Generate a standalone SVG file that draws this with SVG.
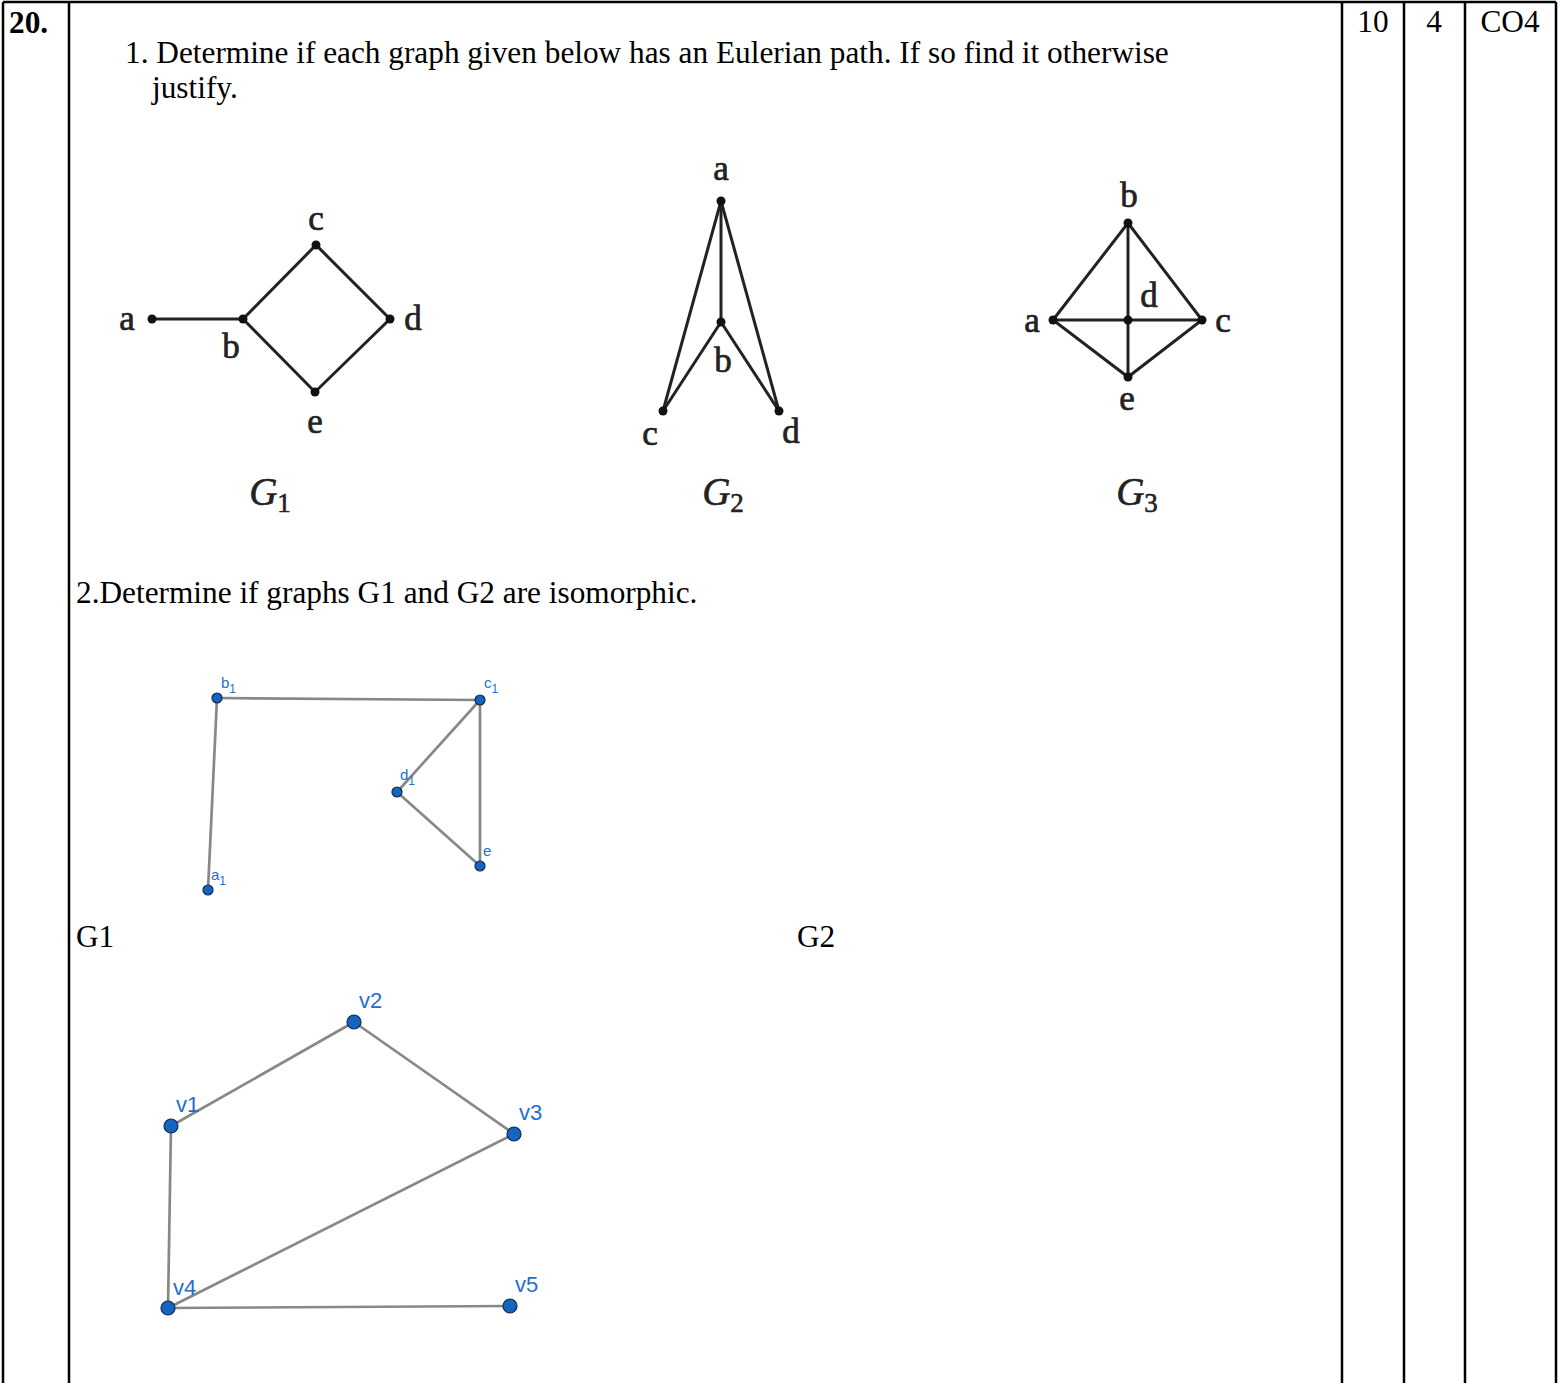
<svg xmlns="http://www.w3.org/2000/svg" width="1558" height="1383" viewBox="0 0 1558 1383">
<style>
.t{font-family:"Liberation Serif",serif;font-size:31.3px;fill:#000}
.lb{font-family:"Liberation Serif",serif;font-size:35px;fill:#222;text-anchor:middle;stroke:#222;stroke-width:0.7}
.gl{font-family:"Liberation Serif",serif;font-size:39px;font-style:italic;fill:#222;text-anchor:middle;stroke:#222;stroke-width:0.6}
.sub{font-size:27px;font-style:normal}
.e{stroke:#222;stroke-width:3;fill:none}
.n{fill:#111}
.ge{stroke:#888;stroke-width:2.7;fill:none}
.gn{fill:#1565c0;stroke:#0d2a50;stroke-width:1.2}
.gt{font-family:"Liberation Sans",sans-serif;fill:#1e6fd0}
.grid{stroke:#000;stroke-width:2.5;fill:none}
</style>
<rect width="1558" height="1383" fill="#fff"/>
<g id="table" class="grid">
<line x1="3" y1="2" x2="1556" y2="2"/>
<line x1="3" y1="2" x2="3" y2="1383"/>
<line x1="69" y1="2" x2="69" y2="1383"/>
<line x1="1342" y1="2" x2="1342" y2="1383"/>
<line x1="1404" y1="2" x2="1404" y2="1383"/>
<line x1="1465" y1="2" x2="1465" y2="1383"/>
<line x1="1556" y1="2" x2="1556" y2="1383"/>
</g>
<g id="texts">
<text class="t" x="9" y="33" font-weight="bold">20.</text>
<text class="t" x="125" y="63">1. Determine if each graph given below has an Eulerian path. If so find it otherwise</text>
<text class="t" x="152" y="98">justify.</text>
<text class="t" x="1373" y="32" text-anchor="middle">10</text>
<text class="t" x="1434" y="32" text-anchor="middle">4</text>
<text class="t" x="1510" y="32" text-anchor="middle">CO4</text>
<text class="t" x="76" y="603">2.Determine if graphs G1 and G2 are isomorphic.</text>
<text class="t" x="76" y="947">G1</text>
<text class="t" x="797" y="947">G2</text>
</g>
<g id="graphG1">
<g class="e">
<line x1="152" y1="319" x2="243" y2="319"/>
<polygon points="243,319 316,245 390,319 315,392"/>
</g>
<circle class="n" cx="152" cy="319" r="4.5"/><circle class="n" cx="243" cy="319" r="4.5"/><circle class="n" cx="316" cy="245" r="4.5"/><circle class="n" cx="390" cy="319" r="4.5"/><circle class="n" cx="315" cy="392" r="4.5"/>
<text class="lb" x="127" y="330">a</text><text class="lb" x="231" y="358">b</text><text class="lb" x="316" y="230">c</text><text class="lb" x="413" y="330">d</text><text class="lb" x="315" y="433">e</text>
<text class="gl" x="270" y="505">G<tspan class="sub" dy="7">1</tspan></text>
</g>
<g id="graphG2">
<g class="e">
<line x1="721" y1="201" x2="721" y2="322"/><line x1="721" y1="201" x2="663" y2="411"/><line x1="721" y1="201" x2="779" y2="411"/>
<line x1="721" y1="322" x2="663" y2="411"/><line x1="721" y1="322" x2="779" y2="411"/>
</g>
<circle class="n" cx="721" cy="201" r="4.5"/><circle class="n" cx="721" cy="322" r="4.5"/><circle class="n" cx="663" cy="411" r="4.5"/><circle class="n" cx="779" cy="411" r="4.5"/>
<text class="lb" x="721" y="180">a</text><text class="lb" x="723" y="372">b</text><text class="lb" x="650" y="445">c</text><text class="lb" x="791" y="443">d</text>
<text class="gl" x="723" y="505">G<tspan class="sub" dy="7">2</tspan></text>
</g>
<g id="graphG3">
<g class="e">
<polygon points="1053,320 1128,223 1202,320 1128,377"/>
<line x1="1053" y1="320" x2="1202" y2="320"/><line x1="1128" y1="223" x2="1128" y2="377"/>
</g>
<circle class="n" cx="1053" cy="320" r="4.5"/><circle class="n" cx="1128" cy="223" r="4.5"/><circle class="n" cx="1202" cy="320" r="4.5"/><circle class="n" cx="1128" cy="377" r="4.5"/><circle class="n" cx="1128" cy="320" r="4.5"/>
<text class="lb" x="1129" y="207">b</text><text class="lb" x="1149" y="307">d</text><text class="lb" x="1032" y="332">a</text><text class="lb" x="1223" y="332">c</text><text class="lb" x="1127" y="410">e</text>
<text class="gl" x="1137" y="505">G<tspan class="sub" dy="7">3</tspan></text>
</g>
<g id="isoG1">
<g class="ge">
<line x1="217" y1="698" x2="480" y2="700"/><line x1="217" y1="698" x2="208" y2="890"/>
<line x1="480" y1="700" x2="397" y2="792"/><line x1="480" y1="700" x2="480" y2="866"/><line x1="397" y1="792" x2="480" y2="866"/>
</g>
<circle class="gn" cx="217" cy="698" r="5"/><circle class="gn" cx="480" cy="700" r="5"/><circle class="gn" cx="397" cy="792" r="5"/><circle class="gn" cx="480" cy="866" r="5"/><circle class="gn" cx="208" cy="890" r="5"/>
<g class="gt" font-size="15">
<text x="221" y="688">b<tspan font-size="12" dy="5">1</tspan></text>
<text x="484" y="688">c<tspan font-size="12" dy="5">1</tspan></text>
<text x="400" y="780">d<tspan font-size="12" dy="5">1</tspan></text>
<text x="483" y="856">e</text>
<text x="211" y="880">a<tspan font-size="12" dy="5">1</tspan></text>
</g>
</g>
<g id="isoG2">
<g class="ge">
<line x1="171" y1="1126" x2="354" y2="1022"/><line x1="354" y1="1022" x2="514" y2="1134"/>
<line x1="171" y1="1126" x2="168" y2="1308"/><line x1="514" y1="1134" x2="168" y2="1308"/><line x1="168" y1="1308" x2="510" y2="1306"/>
</g>
<circle class="gn" cx="171" cy="1126" r="7"/><circle class="gn" cx="354" cy="1022" r="7"/><circle class="gn" cx="514" cy="1134" r="7"/><circle class="gn" cx="168" cy="1308" r="7"/><circle class="gn" cx="510" cy="1306" r="7"/>
<g class="gt" font-size="22">
<text x="359" y="1008">v2</text><text x="176" y="1112">v1</text><text x="519" y="1120">v3</text><text x="173" y="1295">v4</text><text x="515" y="1292">v5</text>
</g>
</g>
</svg>
